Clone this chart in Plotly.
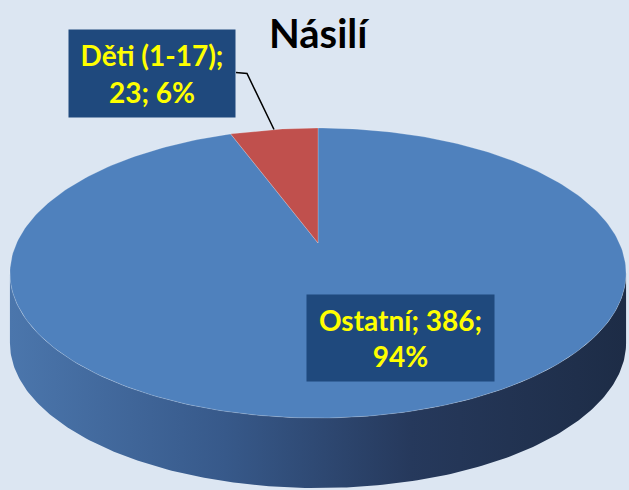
import numpy as np
import plotly.graph_objects as go

# ---- data ----
categories = ["Ostatní", "Děti (1-17)"]
values = [386, 23]
slice_colors = ["#4f81bd", "#c0504d"]
title_text = "Násilí"

# ---- geometry / style ----
W, H = 629, 490
CX, CY, A, B, K, D = 318, 243, 301.4, 138.8, 0.207, 70
BG = "#dce6f2"
FONT = "Lato"


def proj(theta):
    s = np.sin(theta)
    c = np.cos(theta)
    w = 1 + K * c
    return CX + A * s / w, CY - B * c / w


fig = go.Figure()

# side wall (front half)
t0 = np.arccos(-K)
ts = np.linspace(t0, 2 * np.pi - t0, 200)
sx, sy = proj(ts)
side_x = np.concatenate([sx, sx[::-1]])
side_y = np.concatenate([sy, sy[::-1] + D])
fig.add_trace(go.Scatter(
    x=side_x, y=side_y, mode="lines", fill="toself",
    line=dict(width=0), hoverinfo="skip", showlegend=False,
    fillgradient=dict(type="horizontal", colorscale=[
        [0, "#4b76ac"], [0.35, "#37598a"], [0.65, "#26395c"], [1, "#1d2c46"]]),
))

# top face slices
total = sum(values)
start = 0.0
mids = []
for cat, v, col in zip(categories, values, slice_colors):
    span = v / total * 2 * np.pi
    tt = np.linspace(start, start + span, 300)
    ax_, ay_ = proj(tt)
    fig.add_trace(go.Scatter(
        x=np.concatenate([[CX], ax_, [CX]]),
        y=np.concatenate([[CY], ay_, [CY]]),
        mode="lines", fill="toself", fillcolor=col,
        line=dict(width=0.6, color="rgba(255,255,255,0.35)"),
        name=cat, hoverinfo="skip", showlegend=False,
    ))
    mids.append(start + span / 2)
    start += span

# data labels
pcts = [round(v / total * 100) for v in values]
label_texts = [
    f"{categories[0]}; {values[0]};<br>{pcts[0]}%",
    f"{categories[1]};<br>{values[1]}; {pcts[1]}%",
]
label_pos = [(400.5, 338), (152, 73.5)]
label_size = [(187, 86), (166, 87)]
for txt, (lx, ly), (bw, bh) in zip(label_texts, label_pos, label_size):
    fig.add_annotation(
        x=lx, y=ly, xref="x", yref="y", text=f"<b>{txt}</b>", showarrow=False,
        bgcolor="#1f497d", font=dict(family=FONT, size=28, color="#ffff00"),
        width=bw, height=bh, borderpad=0, align="center", valign="middle",
    )

# leader line for small slice
mx, my = proj(mids[1])
box_right = label_pos[1][0] + label_size[1][0] / 2
fig.add_trace(go.Scatter(
    x=[box_right + 1, box_right + 12, mx], y=[label_pos[1][1] - 1, label_pos[1][1], my],
    mode="lines", line=dict(color="black", width=1.5), hoverinfo="skip", showlegend=False,
))

fig.add_annotation(
    x=319, y=33, xref="x", yref="y", text=f"<b>{title_text}</b>", showarrow=False,
    font=dict(family=FONT, size=40, color="black"),
)

fig.update_layout(
    width=W, height=H, margin=dict(l=0, r=0, t=0, b=0),
    paper_bgcolor=BG, plot_bgcolor=BG,
    xaxis=dict(range=[0, W], visible=False, fixedrange=True),
    yaxis=dict(range=[H, 0], visible=False, fixedrange=True),
)

fig.write_html("out.html", config={"displayModeBar": False},
               post_script="document.body.style.margin='0';")
